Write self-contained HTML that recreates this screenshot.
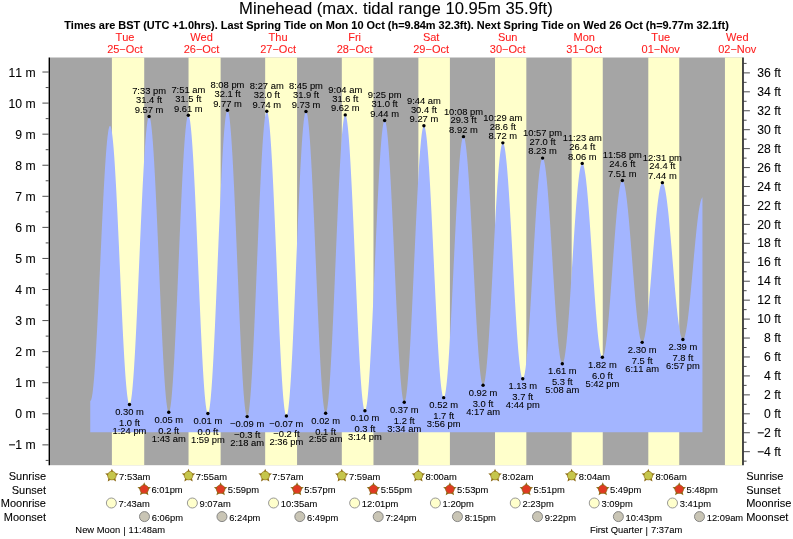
<!DOCTYPE html>
<html lang="en"><head><meta charset="utf-8"><title>Minehead tide times</title>
<style>html,body{margin:0;padding:0;background:#fff}svg{display:block;will-change:transform;font-kerning:none}text{white-space:pre;stroke:#000;stroke-width:.08px}text.r{stroke:#ff1c1c}</style>
</head><body>
<svg width="793" height="539" viewBox="0 0 793 539" font-family="'Liberation Sans', Arial, Helvetica, sans-serif">
<rect width="793" height="539" fill="#fff"/>
<rect x="50.0" y="57.5" width="692.30" height="407.70" fill="#a5a5a5"/>
<rect x="111.90" y="57.5" width="32.31" height="407.70" fill="#ffffcb"/>
<rect x="188.53" y="57.5" width="32.10" height="407.70" fill="#ffffcb"/>
<rect x="265.17" y="57.5" width="31.89" height="407.70" fill="#ffffcb"/>
<rect x="341.81" y="57.5" width="31.67" height="407.70" fill="#ffffcb"/>
<rect x="418.39" y="57.5" width="31.52" height="407.70" fill="#ffffcb"/>
<rect x="495.03" y="57.5" width="31.30" height="407.70" fill="#ffffcb"/>
<rect x="571.66" y="57.5" width="31.09" height="407.70" fill="#ffffcb"/>
<rect x="648.30" y="57.5" width="30.93" height="407.70" fill="#ffffcb"/>
<rect x="724.94" y="57.5" width="17.36" height="407.70" fill="#ffffcb"/>
<path d="M90.25 432.13L90.25 400.70L90.63 400.68L91.02 400.14L91.40 399.09L91.78 397.53L92.16 395.47L92.55 392.91L92.93 389.86L93.31 386.34L93.69 382.35L94.08 377.92L94.46 373.06L94.84 367.78L95.22 362.11L95.61 356.07L95.99 349.69L96.37 342.97L96.75 335.96L97.14 328.68L97.52 321.15L97.90 313.40L98.29 305.46L98.67 297.37L99.05 289.15L99.43 280.83L99.82 272.44L100.20 264.02L100.58 255.60L100.96 247.20L101.35 238.87L101.73 230.63L102.11 222.51L102.49 214.54L102.88 206.76L103.26 199.18L103.64 191.85L104.02 184.79L104.41 178.02L104.79 171.58L105.17 165.47L105.56 159.74L105.94 154.39L106.32 149.45L106.70 144.94L107.09 140.87L107.47 137.27L107.85 134.13L108.23 131.49L108.62 129.33L109.00 127.68L109.38 126.54L109.76 125.91L110.15 125.80L110.53 126.22L110.91 127.17L111.29 128.64L111.68 130.64L112.06 133.14L112.44 136.16L112.82 139.66L113.21 143.65L113.59 148.09L113.97 152.99L114.36 158.31L114.74 164.04L115.12 170.16L115.50 176.64L115.89 183.45L116.27 190.58L116.65 197.99L117.03 205.66L117.42 213.56L117.80 221.65L118.18 229.91L118.56 238.31L118.95 246.80L119.33 255.37L119.71 263.97L120.09 272.58L120.48 281.16L120.86 289.68L121.24 298.10L121.63 306.40L122.01 314.54L122.39 322.49L122.77 330.23L123.16 337.71L123.54 344.92L123.92 351.82L124.30 358.40L124.69 364.61L125.07 370.45L125.45 375.88L125.83 380.89L126.22 385.46L126.60 389.57L126.98 393.21L127.36 396.35L127.75 399.00L128.13 401.13L128.51 402.75L128.90 403.84L129.28 404.40L129.66 404.42L130.04 403.91L130.43 402.86L130.81 401.28L131.19 399.16L131.57 396.53L131.96 393.38L132.34 389.73L132.72 385.60L133.10 381.00L133.49 375.95L133.87 370.46L134.25 364.56L134.63 358.27L135.02 351.61L135.40 344.61L135.78 337.29L136.16 329.68L136.55 321.82L136.93 313.72L137.31 305.42L137.70 296.96L138.08 288.36L138.46 279.65L138.84 270.87L139.23 262.05L139.61 253.23L139.99 244.43L140.37 235.70L140.76 227.05L141.14 218.53L141.52 210.17L141.90 202.00L142.29 194.05L142.67 186.35L143.05 178.92L143.43 171.81L143.82 165.02L144.20 158.59L144.58 152.55L144.97 146.91L145.35 141.70L145.73 136.93L146.11 132.63L146.50 128.81L146.88 125.48L147.26 122.66L147.64 120.36L148.03 118.59L148.41 117.34L148.79 116.64L149.17 116.47L149.56 116.85L149.94 117.79L150.32 119.27L150.70 121.29L151.09 123.85L151.47 126.94L151.85 130.53L152.24 134.63L152.62 139.21L153.00 144.26L153.38 149.75L153.77 155.68L154.15 162.01L154.53 168.72L154.91 175.80L155.30 183.20L155.68 190.90L156.06 198.88L156.44 207.10L156.83 215.54L157.21 224.16L157.59 232.93L157.97 241.82L158.36 250.79L158.74 259.81L159.12 268.85L159.51 277.88L159.89 286.85L160.27 295.74L160.65 304.51L161.04 313.13L161.42 321.56L161.80 329.79L162.18 337.77L162.57 345.48L162.95 352.88L163.33 359.95L163.71 366.67L164.10 373.00L164.48 378.93L164.86 384.43L165.24 389.48L165.63 394.06L166.01 398.16L166.39 401.76L166.78 404.84L167.16 407.40L167.54 409.43L167.92 410.91L168.31 411.85L168.69 412.24L169.07 412.07L169.45 411.34L169.84 410.05L170.22 408.21L170.60 405.83L170.98 402.90L171.37 399.46L171.75 395.50L172.13 391.04L172.51 386.10L172.90 380.70L173.28 374.86L173.66 368.60L174.04 361.94L174.43 354.91L174.81 347.54L175.19 339.85L175.58 331.87L175.96 323.64L176.34 315.18L176.72 306.53L177.11 297.71L177.49 288.76L177.87 279.73L178.25 270.63L178.64 261.50L179.02 252.38L179.40 243.31L179.78 234.31L180.17 225.43L180.55 216.69L180.93 208.12L181.31 199.77L181.70 191.66L182.08 183.82L182.46 176.28L182.85 169.07L183.23 162.22L183.61 155.75L183.99 149.69L184.38 144.07L184.76 138.89L185.14 134.18L185.52 129.97L185.91 126.26L186.29 123.06L186.67 120.40L187.05 118.29L187.44 116.72L187.82 115.70L188.20 115.24L188.58 115.35L188.97 116.02L189.35 117.25L189.73 119.03L190.12 121.36L190.50 124.24L190.88 127.64L191.26 131.56L191.65 135.98L192.03 140.88L192.41 146.25L192.79 152.07L193.18 158.31L193.56 164.95L193.94 171.97L194.32 179.33L194.71 187.02L195.09 195.00L195.47 203.24L195.85 211.71L196.24 220.38L196.62 229.21L197.00 238.18L197.38 247.25L197.77 256.38L198.15 265.54L198.53 274.70L198.92 283.82L199.30 292.87L199.68 301.80L200.06 310.60L200.45 319.22L200.83 327.64L201.21 335.81L201.59 343.72L201.98 351.32L202.36 358.60L202.74 365.52L203.12 372.06L203.51 378.19L203.89 383.90L204.27 389.15L204.65 393.93L205.04 398.22L205.42 402.00L205.80 405.27L206.19 408.00L206.57 410.19L206.95 411.83L207.33 412.92L207.72 413.44L208.10 413.40L208.48 412.79L208.86 411.61L209.25 409.87L209.63 407.57L210.01 404.73L210.39 401.35L210.78 397.45L211.16 393.03L211.54 388.13L211.92 382.75L212.31 376.92L212.69 370.65L213.07 363.98L213.46 356.92L213.84 349.50L214.22 341.76L214.60 333.72L214.99 325.40L215.37 316.85L215.75 308.09L216.13 299.16L216.52 290.08L216.90 280.91L217.28 271.66L217.66 262.37L218.05 253.08L218.43 243.82L218.81 234.64L219.19 225.55L219.58 216.60L219.96 207.82L220.34 199.25L220.73 190.90L221.11 182.83L221.49 175.05L221.87 167.60L222.26 160.50L222.64 153.79L223.02 147.48L223.40 141.59L223.79 136.16L224.17 131.21L224.55 126.74L224.93 122.78L225.32 119.34L225.70 116.44L226.08 114.09L226.46 112.29L226.85 111.05L227.23 110.38L227.61 110.28L228.00 110.74L228.38 111.78L228.76 113.39L229.14 115.55L229.53 118.27L229.91 121.53L230.29 125.32L230.67 129.63L231.06 134.44L231.44 139.73L231.82 145.48L232.20 151.67L232.59 158.28L232.97 165.28L233.35 172.64L233.73 180.35L234.12 188.37L234.50 196.67L234.88 205.21L235.26 213.98L235.65 222.93L236.03 232.03L236.41 241.24L236.80 250.55L237.18 259.89L237.56 269.26L237.94 278.60L238.33 287.88L238.71 297.07L239.09 306.14L239.47 315.04L239.86 323.76L240.24 332.25L240.62 340.48L241.00 348.42L241.39 356.05L241.77 363.33L242.15 370.23L242.53 376.74L242.92 382.83L243.30 388.46L243.68 393.64L244.07 398.32L244.45 402.50L244.83 406.16L245.21 409.29L245.60 411.87L245.98 413.90L246.36 415.37L246.74 416.27L247.13 416.59L247.51 416.35L247.89 415.53L248.27 414.14L248.66 412.19L249.04 409.68L249.42 406.63L249.80 403.04L250.19 398.92L250.57 394.30L250.95 389.19L251.34 383.60L251.72 377.57L252.10 371.11L252.48 364.25L252.87 357.01L253.25 349.42L253.63 341.51L254.01 333.31L254.40 324.85L254.78 316.16L255.16 307.27L255.54 298.22L255.93 289.04L256.31 279.77L256.69 270.43L257.07 261.07L257.46 251.73L257.84 242.43L258.22 233.20L258.61 224.10L258.99 215.14L259.37 206.37L259.75 197.81L260.14 189.50L260.52 181.47L260.90 173.75L261.28 166.37L261.67 159.35L262.05 152.73L262.43 146.52L262.81 140.76L263.20 135.46L263.58 130.64L263.96 126.32L264.34 122.52L264.73 119.24L265.11 116.52L265.49 114.34L265.87 112.73L266.26 111.68L266.64 111.21L267.02 111.31L267.41 111.98L267.79 113.22L268.17 115.03L268.55 117.39L268.94 120.30L269.32 123.75L269.70 127.73L270.08 132.21L270.47 137.19L270.85 142.65L271.23 148.56L271.61 154.90L272.00 161.65L272.38 168.78L272.76 176.26L273.14 184.08L273.53 192.19L273.91 200.58L274.29 209.19L274.68 218.02L275.06 227.01L275.44 236.14L275.82 245.38L276.21 254.68L276.59 264.02L276.97 273.35L277.35 282.65L277.74 291.88L278.12 301.00L278.50 309.97L278.88 318.78L279.27 327.38L279.65 335.74L280.03 343.82L280.41 351.61L280.80 359.06L281.18 366.16L281.56 372.87L281.95 379.17L282.33 385.04L282.71 390.45L283.09 395.38L283.48 399.82L283.86 403.75L284.24 407.15L284.62 410.01L285.01 412.32L285.39 414.07L285.77 415.26L286.15 415.88L286.54 415.92L286.92 415.40L287.30 414.30L287.68 412.64L288.07 410.42L288.45 407.65L288.83 404.34L289.22 400.50L289.60 396.14L289.98 391.29L290.36 385.96L290.75 380.17L291.13 373.94L291.51 367.30L291.89 360.27L292.28 352.88L292.66 345.16L293.04 337.12L293.42 328.81L293.81 320.26L294.19 311.49L294.57 302.55L294.95 293.46L295.34 284.26L295.72 274.98L296.10 265.66L296.48 256.33L296.87 247.03L297.25 237.79L297.63 228.65L298.02 219.64L298.40 210.79L298.78 202.15L299.16 193.74L299.55 185.59L299.93 177.73L300.31 170.20L300.69 163.01L301.08 156.21L301.46 149.81L301.84 143.84L302.22 138.31L302.61 133.26L302.99 128.70L303.37 124.65L303.75 121.12L304.14 118.12L304.52 115.67L304.90 113.78L305.29 112.45L305.67 111.69L306.05 111.50L306.43 111.87L306.82 112.81L307.20 114.31L307.58 116.36L307.96 118.95L308.35 122.08L308.73 125.74L309.11 129.90L309.49 134.56L309.88 139.70L310.26 145.29L310.64 151.32L311.02 157.77L311.41 164.61L311.79 171.81L312.17 179.35L312.56 187.20L312.94 195.33L313.32 203.71L313.70 212.32L314.09 221.10L314.47 230.04L314.85 239.11L315.23 248.26L315.62 257.46L316.00 266.68L316.38 275.88L316.76 285.03L317.15 294.10L317.53 303.05L317.91 311.85L318.29 320.46L318.68 328.85L319.06 337.00L319.44 344.87L319.83 352.43L320.21 359.65L320.59 366.51L320.97 372.98L321.36 379.04L321.74 384.66L322.12 389.82L322.50 394.51L322.89 398.70L323.27 402.39L323.65 405.55L324.03 408.18L324.42 410.26L324.80 411.79L325.18 412.76L325.56 413.16L325.95 413.01L326.33 412.30L326.71 411.03L327.09 409.20L327.48 406.84L327.86 403.93L328.24 400.50L328.63 396.56L329.01 392.12L329.39 387.20L329.77 381.82L330.16 375.99L330.54 369.75L330.92 363.10L331.30 356.09L331.69 348.73L332.07 341.05L332.45 333.08L332.83 324.85L333.22 316.40L333.60 307.74L333.98 298.93L334.36 289.98L334.75 280.93L335.13 271.83L335.51 262.69L335.90 253.56L336.28 244.46L336.66 235.44L337.04 226.53L337.43 217.76L337.81 209.16L338.19 200.77L338.57 192.62L338.96 184.73L339.34 177.14L339.72 169.88L340.10 162.97L340.49 156.45L340.87 150.32L341.25 144.62L341.63 139.38L342.02 134.60L342.40 130.30L342.78 126.51L343.17 123.24L343.55 120.49L343.93 118.28L344.31 116.62L344.70 115.52L345.08 114.97L345.46 114.98L345.84 115.55L346.23 116.66L346.61 118.32L346.99 120.52L347.37 123.25L347.76 126.50L348.14 130.27L348.52 134.52L348.90 139.26L349.29 144.46L349.67 150.10L350.05 156.16L350.44 162.62L350.82 169.45L351.20 176.63L351.58 184.14L351.97 191.93L352.35 200.00L352.73 208.29L353.11 216.79L353.50 225.47L353.88 234.28L354.26 243.20L354.64 252.19L355.03 261.22L355.41 270.26L355.79 279.27L356.17 288.22L356.56 297.07L356.94 305.79L357.32 314.36L357.70 322.73L358.09 330.88L358.47 338.77L358.85 346.38L359.24 353.68L359.62 360.64L360.00 367.23L360.38 373.43L360.77 379.22L361.15 384.58L361.53 389.48L361.91 393.90L362.30 397.84L362.68 401.27L363.06 404.19L363.44 406.57L363.83 408.42L364.21 409.73L364.59 410.48L364.97 410.69L365.36 410.35L365.74 409.47L366.12 408.06L366.51 406.12L366.89 403.66L367.27 400.68L367.65 397.20L368.04 393.24L368.42 388.79L368.80 383.90L369.18 378.56L369.57 372.80L369.95 366.64L370.33 360.11L370.71 353.23L371.10 346.02L371.48 338.51L371.86 330.73L372.24 322.71L372.63 314.48L373.01 306.06L373.39 297.50L373.78 288.82L374.16 280.05L374.54 271.22L374.92 262.38L375.31 253.55L375.69 244.76L376.07 236.05L376.45 227.45L376.84 218.99L377.22 210.71L377.60 202.62L377.98 194.78L378.37 187.19L378.75 179.90L379.13 172.93L379.51 166.29L379.90 160.03L380.28 154.16L380.66 148.71L381.05 143.69L381.43 139.12L381.81 135.02L382.19 131.41L382.58 128.30L382.96 125.69L383.34 123.61L383.72 122.05L384.11 121.03L384.49 120.54L384.87 120.59L385.25 121.17L385.64 122.28L386.02 123.91L386.40 126.06L386.78 128.71L387.17 131.87L387.55 135.51L387.93 139.62L388.31 144.19L388.70 149.20L389.08 154.63L389.46 160.46L389.85 166.67L390.23 173.24L390.61 180.14L390.99 187.34L391.38 194.83L391.76 202.56L392.14 210.51L392.52 218.66L392.91 226.96L393.29 235.39L393.67 243.93L394.05 252.52L394.44 261.16L394.82 269.79L395.20 278.39L395.58 286.92L395.97 295.36L396.35 303.68L396.73 311.83L397.12 319.80L397.50 327.54L397.88 335.04L398.26 342.26L398.65 349.18L399.03 355.76L399.41 362.00L399.79 367.85L400.18 373.31L400.56 378.34L400.94 382.94L401.32 387.07L401.71 390.74L402.09 393.92L402.47 396.61L402.85 398.78L403.24 400.44L403.62 401.58L404.00 402.19L404.39 402.27L404.77 401.84L405.15 400.89L405.53 399.42L405.92 397.46L406.30 394.99L406.68 392.03L407.06 388.60L407.45 384.70L407.83 380.35L408.21 375.57L408.59 370.37L408.98 364.77L409.36 358.80L409.74 352.47L410.12 345.81L410.51 338.84L410.89 331.60L411.27 324.11L411.65 316.38L412.04 308.47L412.42 300.39L412.80 292.17L413.19 283.85L413.57 275.45L413.95 267.01L414.33 258.56L414.72 250.13L415.10 241.75L415.48 233.46L415.86 225.28L416.25 217.24L416.63 209.38L417.01 201.73L417.39 194.30L417.78 187.14L418.16 180.26L418.54 173.70L418.92 167.48L419.31 161.61L419.69 156.13L420.07 151.05L420.46 146.39L420.84 142.18L421.22 138.41L421.60 135.12L421.99 132.31L422.37 129.99L422.75 128.17L423.13 126.86L423.52 126.06L423.90 125.78L424.28 126.01L424.66 126.74L425.05 127.97L425.43 129.69L425.81 131.90L426.19 134.59L426.58 137.75L426.96 141.36L427.34 145.43L427.73 149.92L428.11 154.82L428.49 160.12L428.87 165.80L429.26 171.83L429.64 178.19L430.02 184.86L430.40 191.82L430.79 199.03L431.17 206.48L431.55 214.12L431.93 221.95L432.32 229.92L432.70 238.01L433.08 246.19L433.46 254.42L433.85 262.68L434.23 270.94L434.61 279.16L435.00 287.32L435.38 295.39L435.76 303.33L436.14 311.11L436.53 318.72L436.91 326.11L437.29 333.27L437.67 340.16L438.06 346.76L438.44 353.04L438.82 358.99L439.20 364.58L439.59 369.79L439.97 374.60L440.35 378.99L440.73 382.95L441.12 386.46L441.50 389.51L441.88 392.09L442.26 394.19L442.65 395.79L443.03 396.90L443.41 397.51L443.80 397.62L444.18 397.25L444.56 396.39L444.94 395.05L445.33 393.24L445.71 390.97L446.09 388.24L446.47 385.06L446.86 381.44L447.24 377.41L447.62 372.96L448.00 368.13L448.39 362.92L448.77 357.35L449.15 351.46L449.53 345.25L449.92 338.75L450.30 331.99L450.68 324.99L451.07 317.77L451.45 310.37L451.83 302.81L452.21 295.12L452.60 287.32L452.98 279.45L453.36 271.53L453.74 263.60L454.13 255.68L454.51 247.80L454.89 240.00L455.27 232.29L455.66 224.71L456.04 217.29L456.42 210.06L456.80 203.03L457.19 196.25L457.57 189.72L457.95 183.48L458.34 177.55L458.72 171.95L459.10 166.70L459.48 161.83L459.87 157.34L460.25 153.26L460.63 149.60L461.01 146.37L461.40 143.59L461.78 141.27L462.16 139.41L462.54 138.03L462.93 137.12L463.31 136.69L463.69 136.74L464.07 137.26L464.46 138.25L464.84 139.69L465.22 141.59L465.61 143.94L465.99 146.72L466.37 149.94L466.75 153.57L467.14 157.61L467.52 162.04L467.90 166.83L468.28 171.98L468.67 177.46L469.05 183.26L469.43 189.35L469.81 195.71L470.20 202.31L470.58 209.13L470.96 216.15L471.34 223.34L471.73 230.66L472.11 238.10L472.49 245.63L472.87 253.21L473.26 260.83L473.64 268.44L474.02 276.03L474.41 283.55L474.79 291.00L475.17 298.33L475.55 305.52L475.94 312.54L476.32 319.37L476.70 325.98L477.08 332.34L477.47 338.44L477.85 344.25L478.23 349.74L478.61 354.90L479.00 359.70L479.38 364.14L479.76 368.19L480.14 371.83L480.53 375.06L480.91 377.86L481.29 380.22L481.68 382.13L482.06 383.59L482.44 384.59L482.82 385.12L483.21 385.19L483.59 384.80L483.97 383.97L484.35 382.70L484.74 380.98L485.12 378.84L485.50 376.27L485.88 373.29L486.27 369.90L486.65 366.12L487.03 361.96L487.41 357.45L487.80 352.58L488.18 347.39L488.56 341.90L488.95 336.11L489.33 330.06L489.71 323.76L490.09 317.24L490.48 310.53L490.86 303.65L491.24 296.61L491.62 289.46L492.01 282.22L492.39 274.90L492.77 267.55L493.15 260.18L493.54 252.83L493.92 245.52L494.30 238.28L494.68 231.13L495.07 224.11L495.45 217.23L495.83 210.52L496.22 204.02L496.60 197.73L496.98 191.69L497.36 185.92L497.75 180.43L498.13 175.26L498.51 170.41L498.89 165.91L499.28 161.77L499.66 158.01L500.04 154.65L500.42 151.68L500.81 149.13L501.19 147.01L501.57 145.32L501.95 144.06L502.34 143.25L502.72 142.89L503.10 142.97L503.48 143.48L503.87 144.42L504.25 145.78L504.63 147.55L505.02 149.74L505.40 152.34L505.78 155.32L506.16 158.69L506.55 162.44L506.93 166.54L507.31 170.98L507.69 175.75L508.08 180.83L508.46 186.20L508.84 191.84L509.22 197.73L509.61 203.85L509.99 210.18L510.37 216.69L510.75 223.36L511.14 230.17L511.52 237.09L511.90 244.09L512.29 251.16L512.67 258.26L513.05 265.37L513.43 272.46L513.82 279.52L514.20 286.50L514.58 293.39L514.96 300.16L515.35 306.79L515.73 313.25L516.11 319.52L516.49 325.57L516.88 331.39L517.26 336.96L517.64 342.24L518.02 347.23L518.41 351.91L518.79 356.25L519.17 360.25L519.56 363.89L519.94 367.15L520.32 370.02L520.70 372.50L521.09 374.57L521.47 376.22L521.85 377.46L522.23 378.27L522.62 378.66L523.00 378.62L523.38 378.17L523.76 377.32L524.15 376.07L524.53 374.42L524.91 372.39L525.29 369.97L525.68 367.18L526.06 364.02L526.44 360.52L526.83 356.67L527.21 352.50L527.59 348.02L527.97 343.25L528.36 338.20L528.74 332.90L529.12 327.36L529.50 321.60L529.89 315.65L530.27 309.52L530.65 303.25L531.03 296.84L531.42 290.33L531.80 283.74L532.18 277.09L532.56 270.41L532.95 263.73L533.33 257.06L533.71 250.43L534.10 243.87L534.48 237.40L534.86 231.04L535.24 224.82L535.63 218.76L536.01 212.88L536.39 207.20L536.77 201.76L537.16 196.55L537.54 191.61L537.92 186.95L538.30 182.60L538.69 178.55L539.07 174.84L539.45 171.47L539.83 168.46L540.22 165.81L540.60 163.55L540.98 161.66L541.36 160.17L541.75 159.08L542.13 158.39L542.51 158.10L542.90 158.21L543.28 158.71L543.66 159.58L544.04 160.83L544.43 162.45L544.81 164.44L545.19 166.79L545.57 169.48L545.96 172.52L546.34 175.89L546.72 179.57L547.10 183.55L547.49 187.82L547.87 192.36L548.25 197.16L548.63 202.19L549.02 207.45L549.40 212.90L549.78 218.53L550.17 224.31L550.55 230.24L550.93 236.27L551.31 242.40L551.70 248.60L552.08 254.84L552.46 261.11L552.84 267.38L553.23 273.62L553.61 279.81L553.99 285.94L554.37 291.97L554.76 297.88L555.14 303.66L555.52 309.28L555.90 314.72L556.29 319.96L556.67 324.98L557.05 329.77L557.44 334.30L557.82 338.55L558.20 342.52L558.58 346.18L558.97 349.53L559.35 352.55L559.73 355.22L560.11 357.55L560.50 359.52L560.88 361.12L561.26 362.35L561.64 363.20L562.03 363.67L562.41 363.76L562.79 363.49L563.17 362.85L563.56 361.84L563.94 360.48L564.32 358.77L564.70 356.71L565.09 354.32L565.47 351.59L565.85 348.54L566.24 345.19L566.62 341.54L567.00 337.60L567.38 333.39L567.77 328.93L568.15 324.24L568.53 319.32L568.91 314.20L569.30 308.90L569.68 303.43L570.06 297.81L570.44 292.07L570.83 286.23L571.21 280.31L571.59 274.32L571.97 268.30L572.36 262.25L572.74 256.22L573.12 250.21L573.51 244.25L573.89 238.35L574.27 232.55L574.65 226.87L575.04 221.31L575.42 215.91L575.80 210.69L576.18 205.65L576.57 200.83L576.95 196.24L577.33 191.89L577.71 187.80L578.10 183.98L578.48 180.46L578.86 177.24L579.24 174.33L579.63 171.75L580.01 169.50L580.39 167.59L580.78 166.03L581.16 164.83L581.54 163.98L581.92 163.50L582.31 163.38L582.69 163.61L583.07 164.19L583.45 165.11L583.84 166.37L584.22 167.96L584.60 169.88L584.98 172.13L585.37 174.69L585.75 177.55L586.13 180.71L586.51 184.15L586.90 187.86L587.28 191.83L587.66 196.04L588.05 200.49L588.43 205.14L588.81 209.99L589.19 215.02L589.58 220.22L589.96 225.55L590.34 231.01L590.72 236.57L591.11 242.22L591.49 247.94L591.87 253.69L592.25 259.47L592.64 265.25L593.02 271.02L593.40 276.75L593.78 282.42L594.17 288.01L594.55 293.50L594.93 298.87L595.32 304.11L595.70 309.19L596.08 314.09L596.46 318.81L596.85 323.31L597.23 327.60L597.61 331.64L597.99 335.43L598.38 338.95L598.76 342.19L599.14 345.14L599.52 347.79L599.91 350.12L600.29 352.14L600.67 353.83L601.05 355.19L601.44 356.20L601.82 356.88L602.20 357.21L602.58 357.21L602.97 356.88L603.35 356.23L603.73 355.26L604.12 353.99L604.50 352.40L604.88 350.51L605.26 348.33L605.65 345.86L606.03 343.11L606.41 340.09L606.79 336.82L607.18 333.30L607.56 329.54L607.94 325.57L608.32 321.39L608.71 317.02L609.09 312.48L609.47 307.78L609.85 302.94L610.24 297.97L610.62 292.90L611.00 287.75L611.39 282.52L611.77 277.25L612.15 271.94L612.53 266.62L612.92 261.32L613.30 256.03L613.68 250.80L614.06 245.63L614.45 240.54L614.83 235.56L615.21 230.70L615.59 225.98L615.98 221.41L616.36 217.01L616.74 212.80L617.12 208.79L617.51 205.00L617.89 201.44L618.27 198.13L618.66 195.07L619.04 192.28L619.42 189.76L619.80 187.53L620.19 185.60L620.57 183.96L620.95 182.64L621.33 181.62L621.72 180.92L622.10 180.54L622.48 180.48L622.86 180.72L623.25 181.26L623.63 182.09L624.01 183.21L624.39 184.62L624.78 186.31L625.16 188.28L625.54 190.52L625.92 193.02L626.31 195.77L626.69 198.76L627.07 201.98L627.46 205.42L627.84 209.06L628.22 212.90L628.60 216.91L628.99 221.09L629.37 225.42L629.75 229.88L630.13 234.46L630.52 239.13L630.90 243.89L631.28 248.71L631.66 253.58L632.05 258.47L632.43 263.38L632.81 268.28L633.19 273.15L633.58 277.99L633.96 282.76L634.34 287.45L634.73 292.04L635.11 296.53L635.49 300.88L635.87 305.09L636.26 309.14L636.64 313.01L637.02 316.70L637.40 320.18L637.79 323.44L638.17 326.48L638.55 329.27L638.93 331.82L639.32 334.11L639.70 336.13L640.08 337.88L640.46 339.34L640.85 340.52L641.23 341.41L641.61 342.00L642.00 342.30L642.38 342.30L642.76 342.02L643.14 341.46L643.53 340.61L643.91 339.49L644.29 338.10L644.67 336.44L645.06 334.52L645.44 332.34L645.82 329.91L646.20 327.25L646.59 324.36L646.97 321.24L647.35 317.92L647.73 314.41L648.12 310.71L648.50 306.83L648.88 302.81L649.27 298.63L649.65 294.33L650.03 289.92L650.41 285.41L650.80 280.82L651.18 276.17L651.56 271.46L651.94 266.73L652.33 261.98L652.71 257.23L653.09 252.50L653.47 247.80L653.86 243.16L654.24 238.58L654.62 234.09L655.00 229.71L655.39 225.43L655.77 221.29L656.15 217.29L656.53 213.46L656.92 209.80L657.30 206.32L657.68 203.04L658.07 199.98L658.45 197.13L658.83 194.52L659.21 192.15L659.60 190.02L659.98 188.16L660.36 186.55L660.74 185.22L661.13 184.16L661.51 183.38L661.89 182.87L662.27 182.65L662.66 182.71L663.04 183.04L663.42 183.63L663.80 184.49L664.19 185.62L664.57 187.00L664.95 188.64L665.34 190.52L665.72 192.65L666.10 195.02L666.48 197.61L666.87 200.42L667.25 203.43L667.63 206.65L668.01 210.05L668.40 213.62L668.78 217.36L669.16 221.25L669.54 225.28L669.93 229.43L670.31 233.69L670.69 238.04L671.07 242.47L671.46 246.96L671.84 251.51L672.22 256.08L672.61 260.68L672.99 265.27L673.37 269.85L673.75 274.40L674.14 278.91L674.52 283.35L674.90 287.72L675.28 292.00L675.67 296.16L676.05 300.21L676.43 304.13L676.81 307.90L677.20 311.50L677.58 314.94L677.96 318.19L678.34 321.24L678.73 324.09L679.11 326.72L679.49 329.12L679.88 331.29L680.26 333.22L680.64 334.91L681.02 336.33L681.41 337.51L681.79 338.41L682.17 339.06L682.55 339.43L682.94 339.54L683.32 339.39L683.70 338.97L684.08 338.30L684.47 337.38L684.85 336.20L685.23 334.78L685.61 333.11L686.00 331.21L686.38 329.09L686.76 326.74L687.15 324.18L687.53 321.41L687.91 318.46L688.29 315.32L688.68 312.01L689.06 308.54L689.44 304.93L689.82 301.18L690.21 297.32L690.59 293.34L690.97 289.28L691.35 285.14L691.74 280.95L692.12 276.70L692.50 272.43L692.88 268.14L693.27 263.85L693.65 259.58L694.03 255.34L694.41 251.15L694.80 247.02L695.18 242.96L695.56 239.00L695.95 235.15L696.33 231.42L696.71 227.82L697.09 224.37L697.48 221.08L697.86 217.97L698.24 215.03L698.62 212.29L699.01 209.76L699.39 207.43L699.77 205.33L700.15 203.46L700.54 201.83L700.92 200.43L701.30 199.29L701.68 198.39L702.07 197.75L702.45 197.37L702.45 432.13Z" fill="#a3b5ff"/>
<g stroke="#000" stroke-width="1.4" fill="none">
<path d="M49.3 57.5V465.2"/>
<path d="M743.0 57.5V465.2"/>
</g>
<g stroke="#111" stroke-width="0.75" fill="none">
<path d="M48.6 460.41h-2.9"/>
<path d="M48.6 444.87h-6.2"/>
<path d="M48.6 429.34h-2.9"/>
<path d="M48.6 413.80h-6.2"/>
<path d="M48.6 398.26h-2.9"/>
<path d="M48.6 382.73h-6.2"/>
<path d="M48.6 367.19h-2.9"/>
<path d="M48.6 351.66h-6.2"/>
<path d="M48.6 336.12h-2.9"/>
<path d="M48.6 320.59h-6.2"/>
<path d="M48.6 305.06h-2.9"/>
<path d="M48.6 289.52h-6.2"/>
<path d="M48.6 273.99h-2.9"/>
<path d="M48.6 258.45h-6.2"/>
<path d="M48.6 242.92h-2.9"/>
<path d="M48.6 227.38h-6.2"/>
<path d="M48.6 211.84h-2.9"/>
<path d="M48.6 196.31h-6.2"/>
<path d="M48.6 180.78h-2.9"/>
<path d="M48.6 165.24h-6.2"/>
<path d="M48.6 149.70h-2.9"/>
<path d="M48.6 134.17h-6.2"/>
<path d="M48.6 118.63h-2.9"/>
<path d="M48.6 103.10h-6.2"/>
<path d="M48.6 87.56h-2.9"/>
<path d="M48.6 72.03h-6.2"/>
<path d="M743.6999999999999 461.15h2.9"/>
<path d="M743.6999999999999 451.68h6.2"/>
<path d="M743.6999999999999 442.21h2.9"/>
<path d="M743.6999999999999 432.74h6.2"/>
<path d="M743.6999999999999 423.27h2.9"/>
<path d="M743.6999999999999 413.80h6.2"/>
<path d="M743.6999999999999 404.33h2.9"/>
<path d="M743.6999999999999 394.86h6.2"/>
<path d="M743.6999999999999 385.39h2.9"/>
<path d="M743.6999999999999 375.92h6.2"/>
<path d="M743.6999999999999 366.45h2.9"/>
<path d="M743.6999999999999 356.98h6.2"/>
<path d="M743.6999999999999 347.51h2.9"/>
<path d="M743.6999999999999 338.04h6.2"/>
<path d="M743.6999999999999 328.57h2.9"/>
<path d="M743.6999999999999 319.10h6.2"/>
<path d="M743.6999999999999 309.63h2.9"/>
<path d="M743.6999999999999 300.16h6.2"/>
<path d="M743.6999999999999 290.69h2.9"/>
<path d="M743.6999999999999 281.22h6.2"/>
<path d="M743.6999999999999 271.75h2.9"/>
<path d="M743.6999999999999 262.28h6.2"/>
<path d="M743.6999999999999 252.81h2.9"/>
<path d="M743.6999999999999 243.34h6.2"/>
<path d="M743.6999999999999 233.87h2.9"/>
<path d="M743.6999999999999 224.40h6.2"/>
<path d="M743.6999999999999 214.93h2.9"/>
<path d="M743.6999999999999 205.46h6.2"/>
<path d="M743.6999999999999 195.99h2.9"/>
<path d="M743.6999999999999 186.52h6.2"/>
<path d="M743.6999999999999 177.05h2.9"/>
<path d="M743.6999999999999 167.58h6.2"/>
<path d="M743.6999999999999 158.11h2.9"/>
<path d="M743.6999999999999 148.64h6.2"/>
<path d="M743.6999999999999 139.17h2.9"/>
<path d="M743.6999999999999 129.70h6.2"/>
<path d="M743.6999999999999 120.23h2.9"/>
<path d="M743.6999999999999 110.76h6.2"/>
<path d="M743.6999999999999 101.29h2.9"/>
<path d="M743.6999999999999 91.82h6.2"/>
<path d="M743.6999999999999 82.35h2.9"/>
<path d="M743.6999999999999 72.88h6.2"/>
<path d="M743.6999999999999 63.40h2.9"/>
</g>
<text x="35.60" y="449.37" font-size="12.2" text-anchor="end" fill="#000">−1 m</text>
<text x="35.60" y="418.30" font-size="12.2" text-anchor="end" fill="#000">0 m</text>
<text x="35.60" y="387.23" font-size="12.2" text-anchor="end" fill="#000">1 m</text>
<text x="35.60" y="356.16" font-size="12.2" text-anchor="end" fill="#000">2 m</text>
<text x="35.60" y="325.09" font-size="12.2" text-anchor="end" fill="#000">3 m</text>
<text x="35.60" y="294.02" font-size="12.2" text-anchor="end" fill="#000">4 m</text>
<text x="35.60" y="262.95" font-size="12.2" text-anchor="end" fill="#000">5 m</text>
<text x="35.60" y="231.88" font-size="12.2" text-anchor="end" fill="#000">6 m</text>
<text x="35.60" y="200.81" font-size="12.2" text-anchor="end" fill="#000">7 m</text>
<text x="35.60" y="169.74" font-size="12.2" text-anchor="end" fill="#000">8 m</text>
<text x="35.60" y="138.67" font-size="12.2" text-anchor="end" fill="#000">9 m</text>
<text x="35.60" y="107.60" font-size="12.2" text-anchor="end" fill="#000">10 m</text>
<text x="35.60" y="76.53" font-size="12.2" text-anchor="end" fill="#000">11 m</text>
<text x="781.00" y="455.78" font-size="12.2" text-anchor="end" fill="#000">−4 ft</text>
<text x="781.00" y="436.84" font-size="12.2" text-anchor="end" fill="#000">−2 ft</text>
<text x="781.00" y="417.90" font-size="12.2" text-anchor="end" fill="#000">0 ft</text>
<text x="781.00" y="398.96" font-size="12.2" text-anchor="end" fill="#000">2 ft</text>
<text x="781.00" y="380.02" font-size="12.2" text-anchor="end" fill="#000">4 ft</text>
<text x="781.00" y="361.08" font-size="12.2" text-anchor="end" fill="#000">6 ft</text>
<text x="781.00" y="342.14" font-size="12.2" text-anchor="end" fill="#000">8 ft</text>
<text x="781.00" y="323.20" font-size="12.2" text-anchor="end" fill="#000">10 ft</text>
<text x="781.00" y="304.26" font-size="12.2" text-anchor="end" fill="#000">12 ft</text>
<text x="781.00" y="285.32" font-size="12.2" text-anchor="end" fill="#000">14 ft</text>
<text x="781.00" y="266.38" font-size="12.2" text-anchor="end" fill="#000">16 ft</text>
<text x="781.00" y="247.44" font-size="12.2" text-anchor="end" fill="#000">18 ft</text>
<text x="781.00" y="228.50" font-size="12.2" text-anchor="end" fill="#000">20 ft</text>
<text x="781.00" y="209.56" font-size="12.2" text-anchor="end" fill="#000">22 ft</text>
<text x="781.00" y="190.62" font-size="12.2" text-anchor="end" fill="#000">24 ft</text>
<text x="781.00" y="171.68" font-size="12.2" text-anchor="end" fill="#000">26 ft</text>
<text x="781.00" y="152.74" font-size="12.2" text-anchor="end" fill="#000">28 ft</text>
<text x="781.00" y="133.80" font-size="12.2" text-anchor="end" fill="#000">30 ft</text>
<text x="781.00" y="114.86" font-size="12.2" text-anchor="end" fill="#000">32 ft</text>
<text x="781.00" y="95.92" font-size="12.2" text-anchor="end" fill="#000">34 ft</text>
<text x="781.00" y="76.98" font-size="12.2" text-anchor="end" fill="#000">36 ft</text>
<text x="395.90" y="14.20" font-size="16.65" text-anchor="middle" fill="#000">Minehead (max. tidal range 10.95m 35.9ft)</text>
<text x="396.50" y="29.10" font-size="10.94" text-anchor="middle" fill="#000" font-weight="bold">Times are BST (UTC +1.0hrs). Last Spring Tide on Mon 10 Oct (h=9.84m 32.3ft). Next Spring Tide on Wed 26 Oct (h=9.77m 32.1ft)</text>
<text x="125.03" y="41.40" font-size="11" text-anchor="middle" fill="#ff1c1c" class="r">Tue</text>
<text x="125.03" y="52.90" font-size="11" text-anchor="middle" fill="#ff1c1c" class="r">25−Oct</text>
<text x="201.56" y="41.40" font-size="11" text-anchor="middle" fill="#ff1c1c" class="r">Wed</text>
<text x="201.56" y="52.90" font-size="11" text-anchor="middle" fill="#ff1c1c" class="r">26−Oct</text>
<text x="278.08" y="41.40" font-size="11" text-anchor="middle" fill="#ff1c1c" class="r">Thu</text>
<text x="278.08" y="52.90" font-size="11" text-anchor="middle" fill="#ff1c1c" class="r">27−Oct</text>
<text x="354.62" y="41.40" font-size="11" text-anchor="middle" fill="#ff1c1c" class="r">Fri</text>
<text x="354.62" y="52.90" font-size="11" text-anchor="middle" fill="#ff1c1c" class="r">28−Oct</text>
<text x="431.14" y="41.40" font-size="11" text-anchor="middle" fill="#ff1c1c" class="r">Sat</text>
<text x="431.14" y="52.90" font-size="11" text-anchor="middle" fill="#ff1c1c" class="r">29−Oct</text>
<text x="507.68" y="41.40" font-size="11" text-anchor="middle" fill="#ff1c1c" class="r">Sun</text>
<text x="507.68" y="52.90" font-size="11" text-anchor="middle" fill="#ff1c1c" class="r">30−Oct</text>
<text x="584.21" y="41.40" font-size="11" text-anchor="middle" fill="#ff1c1c" class="r">Mon</text>
<text x="584.21" y="52.90" font-size="11" text-anchor="middle" fill="#ff1c1c" class="r">31−Oct</text>
<text x="660.74" y="41.40" font-size="11" text-anchor="middle" fill="#ff1c1c" class="r">Tue</text>
<text x="660.74" y="52.90" font-size="11" text-anchor="middle" fill="#ff1c1c" class="r">01−Nov</text>
<text x="737.26" y="41.40" font-size="11" text-anchor="middle" fill="#ff1c1c" class="r">Wed</text>
<text x="737.26" y="52.90" font-size="11" text-anchor="middle" fill="#ff1c1c" class="r">02−Nov</text>
<circle cx="129.49" cy="404.48" r="1.7" fill="#000"/>
<text x="129.49" y="415.08" font-size="9.4" text-anchor="middle" fill="#000">0.30 m</text>
<text x="129.49" y="425.88" font-size="9.4" text-anchor="middle" fill="#000">1.0 ft</text>
<text x="129.49" y="433.78" font-size="9.4" text-anchor="middle" fill="#000">1:24 pm</text>
<circle cx="149.10" cy="116.46" r="1.7" fill="#000"/>
<text x="149.10" y="112.86" font-size="9.4" text-anchor="middle" fill="#000">9.57 m</text>
<text x="149.10" y="103.26" font-size="9.4" text-anchor="middle" fill="#000">31.4 ft</text>
<text x="149.10" y="94.36" font-size="9.4" text-anchor="middle" fill="#000">7:33 pm</text>
<circle cx="168.76" cy="412.25" r="1.7" fill="#000"/>
<text x="168.76" y="422.85" font-size="9.4" text-anchor="middle" fill="#000">0.05 m</text>
<text x="168.76" y="433.65" font-size="9.4" text-anchor="middle" fill="#000">0.2 ft</text>
<text x="168.76" y="441.55" font-size="9.4" text-anchor="middle" fill="#000">1:43 am</text>
<circle cx="188.32" cy="115.22" r="1.7" fill="#000"/>
<text x="188.32" y="111.62" font-size="9.4" text-anchor="middle" fill="#000">9.61 m</text>
<text x="188.32" y="102.02" font-size="9.4" text-anchor="middle" fill="#000">31.5 ft</text>
<text x="188.32" y="93.12" font-size="9.4" text-anchor="middle" fill="#000">7:51 am</text>
<circle cx="207.88" cy="413.49" r="1.7" fill="#000"/>
<text x="207.88" y="424.09" font-size="9.4" text-anchor="middle" fill="#000">0.01 m</text>
<text x="207.88" y="434.89" font-size="9.4" text-anchor="middle" fill="#000">0.0 ft</text>
<text x="207.88" y="442.79" font-size="9.4" text-anchor="middle" fill="#000">1:59 pm</text>
<circle cx="227.49" cy="110.25" r="1.7" fill="#000"/>
<text x="227.49" y="106.65" font-size="9.4" text-anchor="middle" fill="#000">9.77 m</text>
<text x="227.49" y="97.05" font-size="9.4" text-anchor="middle" fill="#000">32.1 ft</text>
<text x="227.49" y="88.15" font-size="9.4" text-anchor="middle" fill="#000">8:08 pm</text>
<circle cx="247.15" cy="416.60" r="1.7" fill="#000"/>
<text x="247.15" y="427.20" font-size="9.4" text-anchor="middle" fill="#000">−0.09 m</text>
<text x="247.15" y="438.00" font-size="9.4" text-anchor="middle" fill="#000">−0.3 ft</text>
<text x="247.15" y="445.90" font-size="9.4" text-anchor="middle" fill="#000">2:18 am</text>
<circle cx="266.76" cy="111.18" r="1.7" fill="#000"/>
<text x="266.76" y="107.58" font-size="9.4" text-anchor="middle" fill="#000">9.74 m</text>
<text x="266.76" y="97.98" font-size="9.4" text-anchor="middle" fill="#000">32.0 ft</text>
<text x="266.76" y="89.08" font-size="9.4" text-anchor="middle" fill="#000">8:27 am</text>
<circle cx="286.38" cy="415.97" r="1.7" fill="#000"/>
<text x="286.38" y="426.57" font-size="9.4" text-anchor="middle" fill="#000">−0.07 m</text>
<text x="286.38" y="437.37" font-size="9.4" text-anchor="middle" fill="#000">−0.2 ft</text>
<text x="286.38" y="445.27" font-size="9.4" text-anchor="middle" fill="#000">2:36 pm</text>
<circle cx="305.99" cy="111.49" r="1.7" fill="#000"/>
<text x="305.99" y="107.89" font-size="9.4" text-anchor="middle" fill="#000">9.73 m</text>
<text x="305.99" y="98.29" font-size="9.4" text-anchor="middle" fill="#000">31.9 ft</text>
<text x="305.99" y="89.39" font-size="9.4" text-anchor="middle" fill="#000">8:45 pm</text>
<circle cx="325.65" cy="413.18" r="1.7" fill="#000"/>
<text x="325.65" y="423.78" font-size="9.4" text-anchor="middle" fill="#000">0.02 m</text>
<text x="325.65" y="434.58" font-size="9.4" text-anchor="middle" fill="#000">0.1 ft</text>
<text x="325.65" y="442.48" font-size="9.4" text-anchor="middle" fill="#000">2:55 am</text>
<circle cx="345.26" cy="114.91" r="1.7" fill="#000"/>
<text x="345.26" y="111.31" font-size="9.4" text-anchor="middle" fill="#000">9.62 m</text>
<text x="345.26" y="101.71" font-size="9.4" text-anchor="middle" fill="#000">31.6 ft</text>
<text x="345.26" y="92.81" font-size="9.4" text-anchor="middle" fill="#000">9:04 am</text>
<circle cx="364.93" cy="410.69" r="1.7" fill="#000"/>
<text x="364.93" y="421.29" font-size="9.4" text-anchor="middle" fill="#000">0.10 m</text>
<text x="364.93" y="432.09" font-size="9.4" text-anchor="middle" fill="#000">0.3 ft</text>
<text x="364.93" y="439.99" font-size="9.4" text-anchor="middle" fill="#000">3:14 pm</text>
<circle cx="384.64" cy="120.50" r="1.7" fill="#000"/>
<text x="384.64" y="116.90" font-size="9.4" text-anchor="middle" fill="#000">9.44 m</text>
<text x="384.64" y="107.30" font-size="9.4" text-anchor="middle" fill="#000">31.0 ft</text>
<text x="384.64" y="98.40" font-size="9.4" text-anchor="middle" fill="#000">9:25 pm</text>
<circle cx="404.25" cy="402.30" r="1.7" fill="#000"/>
<text x="404.25" y="412.90" font-size="9.4" text-anchor="middle" fill="#000">0.37 m</text>
<text x="404.25" y="423.70" font-size="9.4" text-anchor="middle" fill="#000">1.2 ft</text>
<text x="404.25" y="431.60" font-size="9.4" text-anchor="middle" fill="#000">3:34 am</text>
<circle cx="423.92" cy="125.78" r="1.7" fill="#000"/>
<text x="423.92" y="122.18" font-size="9.4" text-anchor="middle" fill="#000">9.27 m</text>
<text x="423.92" y="112.58" font-size="9.4" text-anchor="middle" fill="#000">30.4 ft</text>
<text x="423.92" y="103.68" font-size="9.4" text-anchor="middle" fill="#000">9:44 am</text>
<circle cx="443.69" cy="397.64" r="1.7" fill="#000"/>
<text x="443.69" y="408.24" font-size="9.4" text-anchor="middle" fill="#000">0.52 m</text>
<text x="443.69" y="419.04" font-size="9.4" text-anchor="middle" fill="#000">1.7 ft</text>
<text x="443.69" y="426.94" font-size="9.4" text-anchor="middle" fill="#000">3:56 pm</text>
<circle cx="463.46" cy="136.66" r="1.7" fill="#000"/>
<text x="463.46" y="133.06" font-size="9.4" text-anchor="middle" fill="#000">8.92 m</text>
<text x="463.46" y="123.46" font-size="9.4" text-anchor="middle" fill="#000">29.3 ft</text>
<text x="463.46" y="114.56" font-size="9.4" text-anchor="middle" fill="#000">10:08 pm</text>
<circle cx="483.07" cy="385.22" r="1.7" fill="#000"/>
<text x="483.07" y="395.82" font-size="9.4" text-anchor="middle" fill="#000">0.92 m</text>
<text x="483.07" y="406.62" font-size="9.4" text-anchor="middle" fill="#000">3.0 ft</text>
<text x="483.07" y="414.52" font-size="9.4" text-anchor="middle" fill="#000">4:17 am</text>
<circle cx="502.84" cy="142.87" r="1.7" fill="#000"/>
<text x="502.84" y="139.27" font-size="9.4" text-anchor="middle" fill="#000">8.72 m</text>
<text x="502.84" y="129.67" font-size="9.4" text-anchor="middle" fill="#000">28.6 ft</text>
<text x="502.84" y="120.77" font-size="9.4" text-anchor="middle" fill="#000">10:29 am</text>
<circle cx="522.77" cy="378.69" r="1.7" fill="#000"/>
<text x="522.77" y="389.29" font-size="9.4" text-anchor="middle" fill="#000">1.13 m</text>
<text x="522.77" y="400.09" font-size="9.4" text-anchor="middle" fill="#000">3.7 ft</text>
<text x="522.77" y="407.99" font-size="9.4" text-anchor="middle" fill="#000">4:44 pm</text>
<circle cx="542.59" cy="158.09" r="1.7" fill="#000"/>
<text x="542.59" y="154.49" font-size="9.4" text-anchor="middle" fill="#000">8.23 m</text>
<text x="542.59" y="144.89" font-size="9.4" text-anchor="middle" fill="#000">27.0 ft</text>
<text x="542.59" y="135.99" font-size="9.4" text-anchor="middle" fill="#000">10:57 pm</text>
<circle cx="562.31" cy="363.78" r="1.7" fill="#000"/>
<text x="562.31" y="374.38" font-size="9.4" text-anchor="middle" fill="#000">1.61 m</text>
<text x="562.31" y="385.18" font-size="9.4" text-anchor="middle" fill="#000">5.3 ft</text>
<text x="562.31" y="393.08" font-size="9.4" text-anchor="middle" fill="#000">5:08 am</text>
<circle cx="582.24" cy="163.38" r="1.7" fill="#000"/>
<text x="582.24" y="159.78" font-size="9.4" text-anchor="middle" fill="#000">8.06 m</text>
<text x="582.24" y="150.18" font-size="9.4" text-anchor="middle" fill="#000">26.4 ft</text>
<text x="582.24" y="141.28" font-size="9.4" text-anchor="middle" fill="#000">11:23 am</text>
<circle cx="602.38" cy="357.25" r="1.7" fill="#000"/>
<text x="602.38" y="367.85" font-size="9.4" text-anchor="middle" fill="#000">1.82 m</text>
<text x="602.38" y="378.65" font-size="9.4" text-anchor="middle" fill="#000">6.0 ft</text>
<text x="602.38" y="386.55" font-size="9.4" text-anchor="middle" fill="#000">5:42 pm</text>
<circle cx="622.36" cy="180.46" r="1.7" fill="#000"/>
<text x="622.36" y="176.86" font-size="9.4" text-anchor="middle" fill="#000">7.51 m</text>
<text x="622.36" y="167.26" font-size="9.4" text-anchor="middle" fill="#000">24.6 ft</text>
<text x="622.36" y="158.36" font-size="9.4" text-anchor="middle" fill="#000">11:58 pm</text>
<circle cx="642.19" cy="342.34" r="1.7" fill="#000"/>
<text x="642.19" y="352.94" font-size="9.4" text-anchor="middle" fill="#000">2.30 m</text>
<text x="642.19" y="363.74" font-size="9.4" text-anchor="middle" fill="#000">7.5 ft</text>
<text x="642.19" y="371.64" font-size="9.4" text-anchor="middle" fill="#000">6:11 am</text>
<circle cx="662.38" cy="182.64" r="1.7" fill="#000"/>
<text x="662.38" y="179.04" font-size="9.4" text-anchor="middle" fill="#000">7.44 m</text>
<text x="662.38" y="169.44" font-size="9.4" text-anchor="middle" fill="#000">24.4 ft</text>
<text x="662.38" y="160.54" font-size="9.4" text-anchor="middle" fill="#000">12:31 pm</text>
<circle cx="682.90" cy="339.54" r="1.7" fill="#000"/>
<text x="682.90" y="350.14" font-size="9.4" text-anchor="middle" fill="#000">2.39 m</text>
<text x="682.90" y="360.94" font-size="9.4" text-anchor="middle" fill="#000">7.8 ft</text>
<text x="682.90" y="368.84" font-size="9.4" text-anchor="middle" fill="#000">6:57 pm</text>
<polygon points="111.90,468.70 113.84,473.13 118.65,473.61 115.04,476.82 116.07,481.54 111.90,479.10 107.72,481.54 108.76,476.82 105.15,473.61 109.96,473.13" fill="#8b6914"/>
<circle cx="111.90" cy="475.60" r="4.3" fill="#c5c54b" stroke="#8b6914" stroke-width="0.6"/>
<text x="119.10" y="479.60" font-size="9.4" text-anchor="start" fill="#000">7:53am</text>
<polygon points="144.21,482.30 146.15,486.73 150.96,487.21 147.35,490.42 148.38,495.14 144.21,492.70 140.04,495.14 141.07,490.42 137.46,487.21 142.27,486.73" fill="#8b6914"/>
<circle cx="144.21" cy="489.20" r="4.3" fill="#df3a22" stroke="#8b6914" stroke-width="0.6"/>
<text x="151.41" y="493.10" font-size="9.4" text-anchor="start" fill="#000">6:01pm</text>
<polygon points="188.53,468.70 190.47,473.13 195.29,473.61 191.67,476.82 192.71,481.54 188.53,479.10 184.36,481.54 185.40,476.82 181.78,473.61 186.59,473.13" fill="#8b6914"/>
<circle cx="188.53" cy="475.60" r="4.3" fill="#c5c54b" stroke="#8b6914" stroke-width="0.6"/>
<text x="195.73" y="479.60" font-size="9.4" text-anchor="start" fill="#000">7:55am</text>
<polygon points="220.63,482.30 222.57,486.73 227.39,487.21 223.77,490.42 224.81,495.14 220.63,492.70 216.46,495.14 217.50,490.42 213.88,487.21 218.69,486.73" fill="#8b6914"/>
<circle cx="220.63" cy="489.20" r="4.3" fill="#df3a22" stroke="#8b6914" stroke-width="0.6"/>
<text x="227.83" y="493.10" font-size="9.4" text-anchor="start" fill="#000">5:59pm</text>
<polygon points="265.17,468.70 267.11,473.13 271.92,473.61 268.31,476.82 269.34,481.54 265.17,479.10 261.00,481.54 262.03,476.82 258.42,473.61 263.23,473.13" fill="#8b6914"/>
<circle cx="265.17" cy="475.60" r="4.3" fill="#c5c54b" stroke="#8b6914" stroke-width="0.6"/>
<text x="272.37" y="479.60" font-size="9.4" text-anchor="start" fill="#000">7:57am</text>
<polygon points="297.06,482.30 299.00,486.73 303.81,487.21 300.20,490.42 301.23,495.14 297.06,492.70 292.88,495.14 293.92,490.42 290.31,487.21 295.12,486.73" fill="#8b6914"/>
<circle cx="297.06" cy="489.20" r="4.3" fill="#df3a22" stroke="#8b6914" stroke-width="0.6"/>
<text x="304.26" y="493.10" font-size="9.4" text-anchor="start" fill="#000">5:57pm</text>
<polygon points="341.81,468.70 343.75,473.13 348.56,473.61 344.95,476.82 345.98,481.54 341.81,479.10 337.63,481.54 338.67,476.82 335.05,473.61 339.87,473.13" fill="#8b6914"/>
<circle cx="341.81" cy="475.60" r="4.3" fill="#c5c54b" stroke="#8b6914" stroke-width="0.6"/>
<text x="349.01" y="479.60" font-size="9.4" text-anchor="start" fill="#000">7:59am</text>
<polygon points="373.48,482.30 375.42,486.73 380.23,487.21 376.62,490.42 377.66,495.14 373.48,492.70 369.31,495.14 370.34,490.42 366.73,487.21 371.54,486.73" fill="#8b6914"/>
<circle cx="373.48" cy="489.20" r="4.3" fill="#df3a22" stroke="#8b6914" stroke-width="0.6"/>
<text x="380.68" y="493.10" font-size="9.4" text-anchor="start" fill="#000">5:55pm</text>
<polygon points="418.39,468.70 420.33,473.13 425.14,473.61 421.53,476.82 422.56,481.54 418.39,479.10 414.22,481.54 415.25,476.82 411.64,473.61 416.45,473.13" fill="#8b6914"/>
<circle cx="418.39" cy="475.60" r="4.3" fill="#c5c54b" stroke="#8b6914" stroke-width="0.6"/>
<text x="425.59" y="479.60" font-size="9.4" text-anchor="start" fill="#000">8:00am</text>
<polygon points="449.91,482.30 451.85,486.73 456.66,487.21 453.04,490.42 454.08,495.14 449.91,492.70 445.73,495.14 446.77,490.42 443.15,487.21 447.97,486.73" fill="#8b6914"/>
<circle cx="449.91" cy="489.20" r="4.3" fill="#df3a22" stroke="#8b6914" stroke-width="0.6"/>
<text x="457.11" y="493.10" font-size="9.4" text-anchor="start" fill="#000">5:53pm</text>
<polygon points="495.03,468.70 496.97,473.13 501.78,473.61 498.16,476.82 499.20,481.54 495.03,479.10 490.85,481.54 491.89,476.82 488.27,473.61 493.09,473.13" fill="#8b6914"/>
<circle cx="495.03" cy="475.60" r="4.3" fill="#c5c54b" stroke="#8b6914" stroke-width="0.6"/>
<text x="502.23" y="479.60" font-size="9.4" text-anchor="start" fill="#000">8:02am</text>
<polygon points="526.33,482.30 528.27,486.73 533.08,487.21 529.47,490.42 530.50,495.14 526.33,492.70 522.16,495.14 523.19,490.42 519.58,487.21 524.39,486.73" fill="#8b6914"/>
<circle cx="526.33" cy="489.20" r="4.3" fill="#df3a22" stroke="#8b6914" stroke-width="0.6"/>
<text x="533.53" y="493.10" font-size="9.4" text-anchor="start" fill="#000">5:51pm</text>
<polygon points="571.66,468.70 573.60,473.13 578.42,473.61 574.80,476.82 575.84,481.54 571.66,479.10 567.49,481.54 568.52,476.82 564.91,473.61 569.72,473.13" fill="#8b6914"/>
<circle cx="571.66" cy="475.60" r="4.3" fill="#c5c54b" stroke="#8b6914" stroke-width="0.6"/>
<text x="578.86" y="479.60" font-size="9.4" text-anchor="start" fill="#000">8:04am</text>
<polygon points="602.75,482.30 604.69,486.73 609.51,487.21 605.89,490.42 606.93,495.14 602.75,492.70 598.58,495.14 599.61,490.42 596.00,487.21 600.81,486.73" fill="#8b6914"/>
<circle cx="602.75" cy="489.20" r="4.3" fill="#df3a22" stroke="#8b6914" stroke-width="0.6"/>
<text x="609.95" y="493.10" font-size="9.4" text-anchor="start" fill="#000">5:49pm</text>
<polygon points="648.30,468.70 650.24,473.13 655.05,473.61 651.44,476.82 652.47,481.54 648.30,479.10 644.13,481.54 645.16,476.82 641.55,473.61 646.36,473.13" fill="#8b6914"/>
<circle cx="648.30" cy="475.60" r="4.3" fill="#c5c54b" stroke="#8b6914" stroke-width="0.6"/>
<text x="655.50" y="479.60" font-size="9.4" text-anchor="start" fill="#000">8:06am</text>
<polygon points="679.23,482.30 681.17,486.73 685.98,487.21 682.37,490.42 683.40,495.14 679.23,492.70 675.06,495.14 676.09,490.42 672.48,487.21 677.29,486.73" fill="#8b6914"/>
<circle cx="679.23" cy="489.20" r="4.3" fill="#df3a22" stroke="#8b6914" stroke-width="0.6"/>
<text x="686.43" y="493.10" font-size="9.4" text-anchor="start" fill="#000">5:48pm</text>
<circle cx="111.37" cy="503.0" r="5" fill="#ffffcc" stroke="#8c8c8c" stroke-width="0.9"/>
<text x="118.57" y="506.60" font-size="9.4" text-anchor="start" fill="#000">7:43am</text>
<circle cx="192.36" cy="503.0" r="5" fill="#ffffcc" stroke="#8c8c8c" stroke-width="0.9"/>
<text x="199.56" y="506.60" font-size="9.4" text-anchor="start" fill="#000">9:07am</text>
<circle cx="273.57" cy="503.0" r="5" fill="#ffffcc" stroke="#8c8c8c" stroke-width="0.9"/>
<text x="280.77" y="506.60" font-size="9.4" text-anchor="start" fill="#000">10:35am</text>
<circle cx="354.67" cy="503.0" r="5" fill="#ffffcc" stroke="#8c8c8c" stroke-width="0.9"/>
<text x="361.87" y="506.60" font-size="9.4" text-anchor="start" fill="#000">12:01pm</text>
<circle cx="435.40" cy="503.0" r="5" fill="#ffffcc" stroke="#8c8c8c" stroke-width="0.9"/>
<text x="442.60" y="506.60" font-size="9.4" text-anchor="start" fill="#000">1:20pm</text>
<circle cx="515.27" cy="503.0" r="5" fill="#ffffcc" stroke="#8c8c8c" stroke-width="0.9"/>
<text x="522.47" y="506.60" font-size="9.4" text-anchor="start" fill="#000">2:23pm</text>
<circle cx="594.25" cy="503.0" r="5" fill="#ffffcc" stroke="#8c8c8c" stroke-width="0.9"/>
<text x="601.45" y="506.60" font-size="9.4" text-anchor="start" fill="#000">3:09pm</text>
<circle cx="672.48" cy="503.0" r="5" fill="#ffffcc" stroke="#8c8c8c" stroke-width="0.9"/>
<text x="679.68" y="506.60" font-size="9.4" text-anchor="start" fill="#000">3:41pm</text>
<circle cx="144.48" cy="516.6" r="5" fill="#c9c5b5" stroke="#7d7d7d" stroke-width="0.9"/>
<text x="151.68" y="520.60" font-size="9.4" text-anchor="start" fill="#000">6:06pm</text>
<circle cx="221.96" cy="516.6" r="5" fill="#c9c5b5" stroke="#7d7d7d" stroke-width="0.9"/>
<text x="229.16" y="520.60" font-size="9.4" text-anchor="start" fill="#000">6:24pm</text>
<circle cx="299.82" cy="516.6" r="5" fill="#c9c5b5" stroke="#7d7d7d" stroke-width="0.9"/>
<text x="307.02" y="520.60" font-size="9.4" text-anchor="start" fill="#000">6:49pm</text>
<circle cx="378.21" cy="516.6" r="5" fill="#c9c5b5" stroke="#7d7d7d" stroke-width="0.9"/>
<text x="385.41" y="520.60" font-size="9.4" text-anchor="start" fill="#000">7:24pm</text>
<circle cx="457.45" cy="516.6" r="5" fill="#c9c5b5" stroke="#7d7d7d" stroke-width="0.9"/>
<text x="464.65" y="520.60" font-size="9.4" text-anchor="start" fill="#000">8:15pm</text>
<circle cx="537.54" cy="516.6" r="5" fill="#c9c5b5" stroke="#7d7d7d" stroke-width="0.9"/>
<text x="544.74" y="520.60" font-size="9.4" text-anchor="start" fill="#000">9:22pm</text>
<circle cx="618.38" cy="516.6" r="5" fill="#c9c5b5" stroke="#7d7d7d" stroke-width="0.9"/>
<text x="625.58" y="520.60" font-size="9.4" text-anchor="start" fill="#000">10:43pm</text>
<circle cx="699.48" cy="516.6" r="5" fill="#c9c5b5" stroke="#7d7d7d" stroke-width="0.9"/>
<text x="706.68" y="520.60" font-size="9.4" text-anchor="start" fill="#000">12:09am</text>
<text x="46.00" y="479.50" font-size="11" text-anchor="end" fill="#000">Sunrise</text>
<text x="746.20" y="479.50" font-size="11" text-anchor="start" fill="#000">Sunrise</text>
<text x="46.00" y="494.00" font-size="11" text-anchor="end" fill="#000">Sunset</text>
<text x="746.20" y="494.00" font-size="11" text-anchor="start" fill="#000">Sunset</text>
<text x="46.00" y="506.70" font-size="11" text-anchor="end" fill="#000">Moonrise</text>
<text x="746.20" y="506.70" font-size="11" text-anchor="start" fill="#000">Moonrise</text>
<text x="46.00" y="520.80" font-size="11" text-anchor="end" fill="#000">Moonset</text>
<text x="746.20" y="520.80" font-size="11" text-anchor="start" fill="#000">Moonset</text>
<text x="122.79" y="533.00" font-size="9.4" text-anchor="end" fill="#000">New Moon </text>
<text x="123.19" y="533.60" font-size="9.4" text-anchor="start" fill="#000">|</text>
<text x="125.99" y="533.00" font-size="9.4" text-anchor="start" fill="#000"> 11:48am</text>
<text x="645.16" y="533.00" font-size="9.4" text-anchor="end" fill="#000">First Quarter </text>
<text x="645.56" y="533.60" font-size="9.4" text-anchor="start" fill="#000">|</text>
<text x="648.36" y="533.00" font-size="9.4" text-anchor="start" fill="#000"> 7:37am</text>
</svg>
</body></html>
